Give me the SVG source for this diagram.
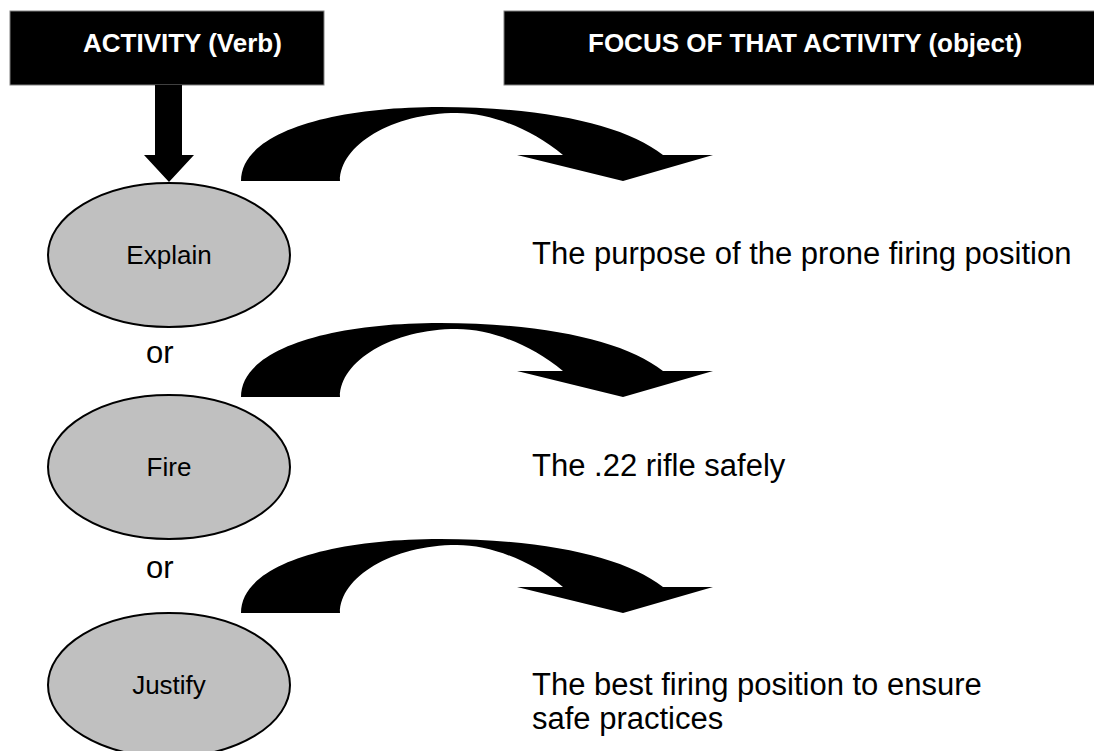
<svg xmlns="http://www.w3.org/2000/svg" width="1094" height="751" viewBox="0 0 1094 751">
  <style>
    .hdr-box { fill: #000; stroke: #808080; stroke-width: 1; }
    .hdr-text { font-family: "Liberation Sans", Arial, sans-serif; font-weight: bold; font-size: 26px; fill: #fff; }
    .verb { fill: #c0c0c0; stroke: #000; stroke-width: 2; }
    .verb-text { font-family: "Liberation Sans", Arial, sans-serif; font-size: 26px; fill: #000; text-anchor: middle; }
    .body-text { font-family: "Liberation Sans", Arial, sans-serif; font-size: 31px; fill: #000; }
    .bent { fill: #000; }
  </style>
  <defs>
    <!-- bent block arrow from the verb column to the object column -->
    <path id="bent-arrow" d="M241,181 C241,133 330,107 440,107 C545,107 625,125 663,155 L713,155 L623,181 L517,155 L563,155 C530,128 490,113 457,113 C392,113 340,145 340,181 Z"/>
  </defs>

  <g id="header-activity">
    <rect class="hdr-box" x="10" y="11" width="314" height="74"/>
    <text class="hdr-text" x="83" y="52">ACTIVITY (Verb)</text>
  </g>
  <g id="header-focus">
    <rect class="hdr-box" x="504" y="11" width="595" height="74"/>
    <text class="hdr-text" x="588" y="52">FOCUS OF THAT ACTIVITY (object)</text>
  </g>

  <g id="connectors">
    <!-- down arrow from header into the first verb -->
    <polygon fill="#000" points="155,85 182,85 182,155 194,155 169,182 144,155 155,155"/>
    <use href="#bent-arrow" class="bent"/>
    <use href="#bent-arrow" class="bent" transform="translate(0,216)"/>
    <use href="#bent-arrow" class="bent" transform="translate(0,432)"/>
  </g>

  <g id="verb-explain">
    <ellipse class="verb" cx="169" cy="255" rx="121" ry="72"/>
    <text class="verb-text" x="169" y="264">Explain</text>
  </g>
  <g id="verb-fire">
    <ellipse class="verb" cx="169" cy="467" rx="121" ry="72"/>
    <text class="verb-text" x="169" y="476">Fire</text>
  </g>
  <g id="verb-justify">
    <ellipse class="verb" cx="169" cy="685" rx="121" ry="72"/>
    <text class="verb-text" x="169" y="694">Justify</text>
  </g>

  <g id="or-1"><text class="body-text" x="146" y="363">or</text></g>
  <g id="or-2"><text class="body-text" x="146" y="578">or</text></g>

  <g id="object-1"><text class="body-text" x="532" y="264">The purpose of the prone firing position</text></g>
  <g id="object-2"><text class="body-text" x="532" y="476">The .22 rifle safely</text></g>
  <g id="object-3">
    <text class="body-text" x="532" y="695">The best firing position to ensure</text>
    <text class="body-text" x="532" y="729">safe practices</text>
  </g>
</svg>
